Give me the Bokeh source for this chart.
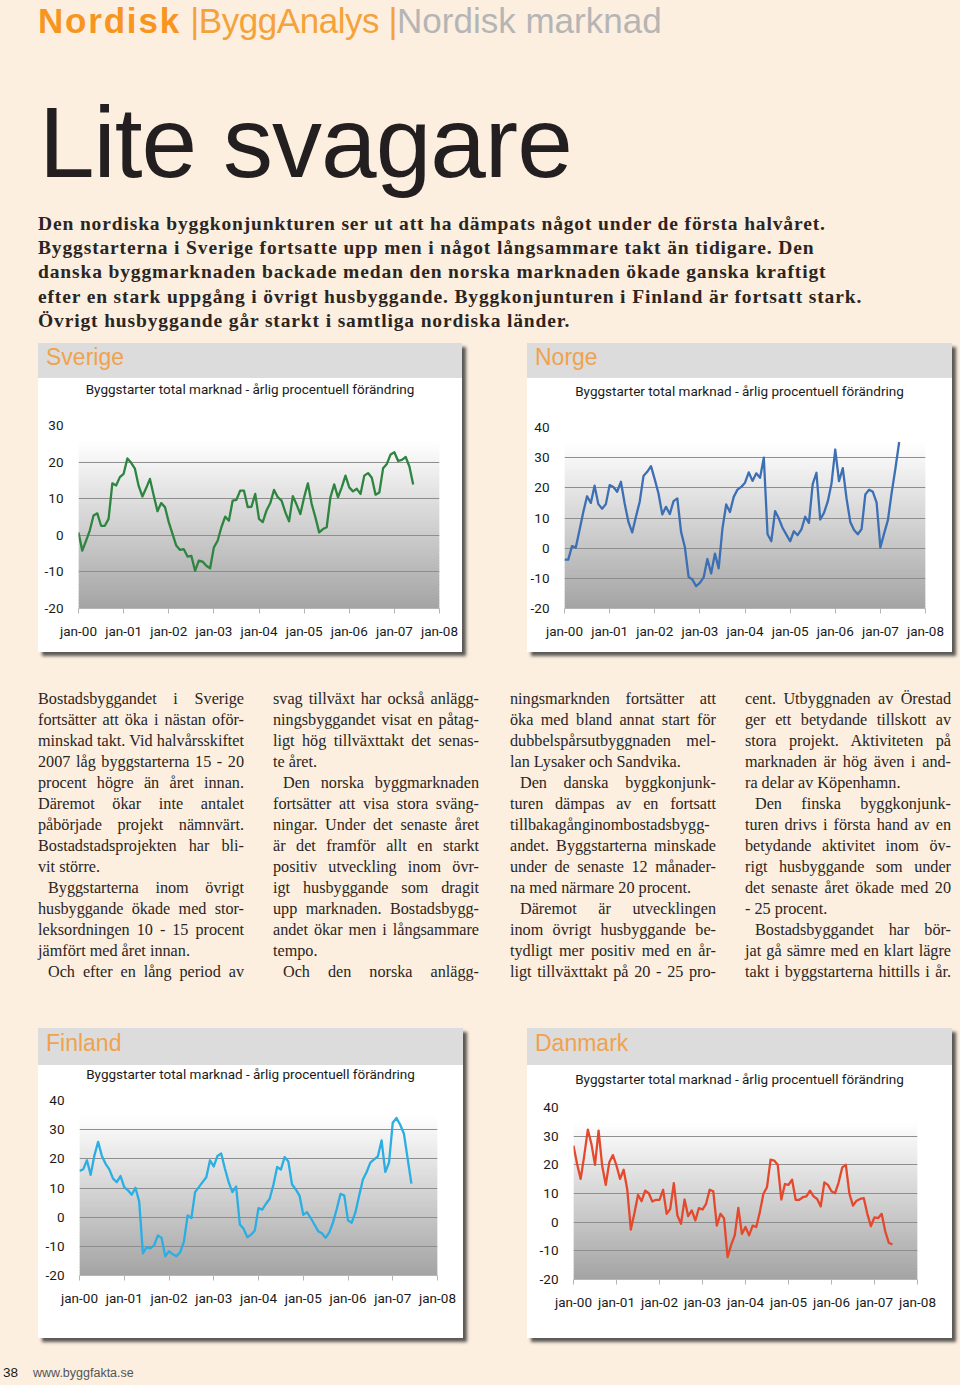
from bokeh.plotting import figure
from bokeh.models import Div, Spacer, Range1d, FixedTicker, BoxAnnotation
from bokeh.layouts import column, row
from bokeh.embed import file_html
from bokeh.resources import INLINE

# ---------------- data ----------------
tick_labels = ["jan-00", "jan-01", "jan-02", "jan-03", "jan-04",
               "jan-05", "jan-06", "jan-07", "jan-08"]

sverige = [0.8, -4.2, -1.5, 1.3, 5.4, 6.0, 2.6, 2.6, 4.5, 14.2,
           13.6, 15.9, 16.8, 21.0, 19.8, 18.2, 13.5, 10.6, 12.9, 15.4,
           10.9, 6.6, 8.8, 7.7, 3.6, 0.4, -2.8, -4.0, -3.8, -5.8,
           -5.6, -9.7, -6.9, -7.2, -8.3, -9.0, -3.3, -1.5, 2.2, 5.1,
           4.0, 9.5, 9.7, 12.2, 12.2, 7.7, 7.8, 11.3, 4.5, 3.6,
           6.8, 8.8, 12.4, 10.4, 9.5, 6.3, 3.8, 10.7, 8.4, 5.8,
           10.4, 14.2, 8.6, 4.9, 0.8, 1.7, 2.2, 10.4, 13.9, 10.4,
           13.1, 16.3, 13.1, 12.0, 12.7, 11.3, 16.3, 17.0, 15.7, 11.1,
           11.7, 18.3, 19.5, 22.1, 22.7, 20.3, 20.6, 21.4, 18.8, 13.9]

norge = [-3.8, -3.8, 0.7, 0.2, 6.0, 12.0, 17.2, 15.0, 20.7, 14.6,
         13.1, 14.6, 20.9, 20.3, 18.7, 22.0, 14.8, 8.7, 5.2, 10.4,
         15.4, 23.9, 25.3, 27.2, 22.8, 18.1, 11.2, 13.7, 11.3, 15.6,
         16.5, 5.4, 0.4, -9.5, -10.4, -12.6, -11.5, -9.7, -3.6, -8.4,
         -1.8, -6.7, 6.5, 14.5, 12.0, 17.0, 19.4, 20.3, 21.7, 25.1,
         22.3, 24.8, 23.3, 30.0, 4.6, 2.3, 12.3, 9.8, 6.7, 4.5,
         2.3, 5.6, 4.3, 6.2, 10.4, 8.4, 21.2, 25.0, 9.5, 11.7,
         15.4, 21.4, 32.7, 22.2, 26.5, 16.5, 8.7, 6.0, 4.6, 6.3,
         17.8, 19.4, 18.7, 15.1, 0.2, 4.9, 9.3, 18.3, 26.4, 35.2]

finland = [15.8, 16.4, 19.5, 14.5, 21.2, 25.8, 21.0, 18.3, 16.4, 13.2,
           12.0, 14.1, 10.3, 9.2, 7.7, 10.1, 5.4, -12.4, -10.3, -10.7,
           -9.7, -6.3, -7.1, -13.4, -11.7, -12.7, -13.4, -12.0, -8.4, 0.6,
           -0.3, 8.6, 10.3, 12.0, 13.7, 19.5, 17.4, 21.0, 21.8, 16.6,
           12.0, 8.6, 10.5, -2.5, -4.0, -6.9, -6.0, -4.6, 3.1, 2.6,
           4.6, 6.3, 11.1, 17.2, 16.3, 20.6, 19.1, 11.2, 9.5, 7.4,
           0.8, 1.7, -0.3, -2.5, -4.8, -5.5, -7.1, -5.2, -1.7, 2.9,
           8.0, 7.4, -1.1, -1.9, 1.7, 7.4, 12.9, 15.5, 18.7, 19.8,
           20.8, 26.3, 15.5, 18.7, 32.4, 34.0, 31.7, 28.6, 20.0, 11.5]

danmark = [26.7, 20.3, 15.1, 23.2, 32.3, 27.3, 20.0, 31.9, 19.7, 13.0,
           20.9, 23.4, 19.7, 15.1, 18.3, 11.4, -2.6, 3.1, 9.5, 7.3,
           11.0, 10.1, 7.2, 7.8, 7.8, 11.3, 2.9, 4.6, 13.6, 2.3,
           -0.6, 7.9, 2.1, 4.1, 0.6, 4.9, 4.4, 6.4, 11.3, 10.8,
           -1.2, 2.9, 1.4, -12.2, -7.9, -4.6, 5.0, -4.1, -1.7, -4.6,
           -1.2, -1.7, 3.5, 9.9, 12.2, 21.8, 21.5, 20.0, 7.9, 13.3,
           13.0, 14.8, 7.8, 7.8, 8.7, 9.0, 11.0, 9.0, 8.1, 5.5,
           13.9, 13.0, 10.8, 10.1, 13.9, 19.1, 20.0, 9.9, 5.8, 7.5,
           8.1, 8.4, 2.9, -1.4, 1.7, 1.4, 2.9, -3.2, -7.2, -7.8]

subtitle = "Byggstarter total marknad - årlig procentuell förändring"

header_parts = ["Nordisk", " |ByggAnalys |", "Nordisk marknad"]
main_title = "Lite svagare"
lead_lines = [
    "Den nordiska byggkonjunkturen ser ut att ha dämpats något under de första halvåret.",
    "Byggstarterna i Sverige fortsatte upp men i något långsammare takt än tidigare. Den",
    "danska byggmarknaden backade medan den norska marknaden ökade ganska kraftigt",
    "efter en stark uppgång i övrigt husbyggande. Byggkonjunturen i Finland är fortsatt stark.",
    "Övrigt husbyggande går starkt i samtliga nordiska länder.",
]

# each column: list of paragraphs (lines, indented, last line justified)
columns_text = [
    [
        (["Bostadsbyggandet i Sverige",
          "fortsätter att öka i nästan oför-",
          "minskad takt. Vid halvårsskiftet",
          "2007 låg byggstarterna 15 - 20",
          "procent högre än året innan.",
          "Däremot ökar inte antalet",
          "påbörjade projekt nämnvärt.",
          "Bostadstadsprojekten har bli-",
          "vit större."], False, False),
        (["Byggstarterna inom övrigt",
          "husbyggande ökade med stor-",
          "leksordningen 10 - 15 procent",
          "jämfört med året innan."], True, False),
        (["Och efter en lång period av"], True, True),
    ],
    [
        (["svag tillväxt har också anlägg-",
          "ningsbyggandet visat en påtag-",
          "ligt hög tillväxttakt det senas-",
          "te året."], False, False),
        (["Den norska byggmarknaden",
          "fortsätter att visa stora sväng-",
          "ningar. Under det senaste året",
          "är det framför allt en starkt",
          "positiv utveckling inom övr-",
          "igt husbyggande som dragit",
          "upp marknaden. Bostadsbygg-",
          "andet ökar men i långsammare",
          "tempo."], True, False),
        (["Och den norska anlägg-"], True, True),
    ],
    [
        (["ningsmarknden fortsätter att",
          "öka med bland annat start för",
          "dubbelspårsutbyggnaden mel-",
          "lan Lysaker och Sandvika."], False, False),
        (["Den danska byggkonjunk-",
          "turen dämpas av en fortsatt",
          "tillbakagånginombostadsbygg-",
          "andet. Byggstarterna minskade",
          "under de senaste 12 månader-",
          "na med närmare 20 procent."], True, False),
        (["Däremot är utvecklingen",
          "inom övrigt husbyggande be-",
          "tydligt mer positiv med en år-",
          "ligt tillväxttakt på 20 - 25 pro-"], True, True),
    ],
    [
        (["cent. Utbyggnaden av Örestad",
          "ger ett betydande tillskott av",
          "stora projekt. Aktiviteten på",
          "marknaden är hög även i and-",
          "ra delar av Köpenhamn."], False, False),
        (["Den finska byggkonjunk-",
          "turen drivs i första hand av en",
          "betydande aktivitet inom öv-",
          "rigt husbyggande som under",
          "det senaste året ökade med 20",
          "- 25 procent."], True, False),
        (["Bostadsbyggandet har bör-",
          "jat gå sämre med en klart lägre",
          "takt i byggstarterna hittills i år."], True, True),
    ],
]

footer_page = "38"
footer_url = "www.byggfakta.se"

# ---------------- styles ----------------
BG = "#fcefe0"
SANS = "'Liberation Sans', Arial, sans-serif"
SERIF = "'Liberation Serif', 'Times New Roman', serif"
TEXT = "#2a2522"


def lerp_hex(c1, c2, t):
    a = [int(c1[i:i + 2], 16) for i in (1, 3, 5)]
    b = [int(c2[i:i + 2], 16) for i in (1, 3, 5)]
    c = [round(a[k] + (b[k] - a[k]) * t) for k in range(3)]
    return "#%02x%02x%02x" % tuple(c)


def make_panel(name, values, color, ymax, w, band_h, band_lh, sub_h, sub_lh,
               fig_h, borders):
    band = Div(
        text=(f'<div style="width:{w}px;height:{band_h}px;line-height:{band_lh}px;'
              f'background:#dcdcdc;color:#f0a24c;font-family:{SANS};font-size:23px;'
              f'padding-left:8px;box-sizing:border-box;white-space:nowrap">{name}</div>'),
        width=w, height=band_h, margin=0)
    sub = Div(
        text=(f'<div style="width:{w}px;height:{sub_h}px;line-height:{sub_lh}px;'
              f'text-align:center;color:#1a1a1a;font-family:Roboto, sans-serif;'
              f'font-size:13.5px;white-space:nowrap">{subtitle}</div>'),
        width=w, height=sub_h, margin=0, styles={"background-color": "white"})
    ymin = -20
    l, r, t, b = borders
    p = figure(width=w, height=fig_h, x_range=Range1d(0, 12 * (len(tick_labels) - 1)),
               y_range=Range1d(ymin, ymax), output_backend="svg",
               toolbar_location=None, title=None,
               min_border_left=l, min_border_right=r, min_border_top=t,
               min_border_bottom=b, background_fill_color="white",
               border_fill_color="white", outline_line_color=None, margin=0)
    # gradient plot background
    n = 60
    step = (ymax - ymin) / n
    for i in range(n):
        lo = ymin + i * step
        frac = (i + 0.5) / n
        col = lerp_hex("#a3a3a3", "#ffffff", min(1.0, frac * 1.08))
        p.add_layout(BoxAnnotation(bottom=lo - step * 0.5 if i else None,
                                   top=lo + step, fill_color=col, fill_alpha=1.0,
                                   line_color=None, level="image"))
    xs = list(range(len(values)))
    p.line(xs, values, line_color=color, line_width=2.3, line_join="round")

    ticks = [12 * i for i in range(len(tick_labels))]
    p.xaxis.ticker = FixedTicker(ticks=ticks)
    p.xaxis.major_label_overrides = {k: v for k, v in zip(ticks, tick_labels)}
    p.xaxis.minor_tick_line_color = None
    p.xaxis.major_tick_out = 5
    p.xaxis.major_tick_in = 0
    p.xaxis.major_tick_line_color = "#b5b5b5"
    p.xaxis.axis_line_color = "#b5b5b5"
    p.xaxis.major_label_standoff = 9
    yticks = list(range(ymin, ymax + 1, 10))
    p.yaxis.ticker = FixedTicker(ticks=yticks)
    p.yaxis.major_label_overrides = {v: str(v) for v in yticks}
    p.yaxis.major_tick_line_color = None
    p.yaxis.minor_tick_line_color = None
    p.yaxis.axis_line_color = None
    p.yaxis.major_label_standoff = 9
    for ax in (p.xaxis, p.yaxis):
        ax.major_label_text_font = "Roboto"
        ax.major_label_text_font_size = "13.5px"
        ax.major_label_text_color = "#1a1a1a"
    p.xgrid.grid_line_color = None
    p.ygrid.ticker = FixedTicker(ticks=yticks)
    p.ygrid.grid_line_color = "#8e8e8e"
    p.ygrid.grid_line_width = 1

    panel = column(band, sub, p, width=w, height=band_h + sub_h + fig_h,
                   margin=0, spacing=0,
                   styles={"box-shadow": "4px 4px 3px rgba(50,50,50,0.8)",
                           "background-color": "white"})
    return panel


sv = make_panel("Sverige", sverige, "#2e8540", 30, 424, 35, 29.4, 22, 22, 252,
                (40, 23, 25, 44))
no = make_panel("Norge", norge, "#3d6fb4", 40, 425, 35, 29.4, 27, 27.4, 247,
                (35, 27, 22, 44))
fi = make_panel("Finland", finland, "#2aaee3", 40, 425, 37, 30, 20, 19.6, 253,
                (41, 26, 15, 63))
da = make_panel("Danmark", danmark, "#e5492d", 40, 425, 37, 30, 28, 28, 245,
                (46, 35, 14, 59))

# ---------------- top text ----------------
top_html = ['<div style="position:relative;width:944px;height:335px">']
top_html.append(
    f'<div style="position:absolute;left:30px;top:0px;line-height:26px;'
    f'font-family:{SANS};font-size:35px;white-space:nowrap">'
    f'<span style="color:#f7951f;font-weight:bold;letter-spacing:1.8px">{header_parts[0]}</span>'
    f'<span style="color:#f5a23a;letter-spacing:-0.45px">{header_parts[1]}</span>'
    f'<span style="color:#b5b5b5">{header_parts[2]}</span></div>')
top_html.append(
    f'<div style="position:absolute;left:31px;top:73.5px;line-height:120px;'
    f'font-family:{SANS};font-size:100px;letter-spacing:-1px;color:#231f20;'
    f'white-space:nowrap">{main_title}</div>')
for i, line in enumerate(lead_lines):
    top_html.append(
        f'<div style="position:absolute;left:30px;top:{203.6 + i * 24.3:.1f}px;'
        f'line-height:24.3px;font-family:{SERIF};font-weight:bold;font-size:19.5px;'
        f'letter-spacing:0.86px;color:{TEXT};white-space:nowrap">{line}</div>')
top_html.append('</div>')
top_div = Div(text="".join(top_html), width=944, height=335, margin=0,
              styles={"overflow": "visible"})

# ---------------- body text columns ----------------
col_lefts = [30, 265, 502, 737]
col_w = 206
lh = 20.95
mid_html = ['<div style="position:relative;width:944px;height:376px">']
for ci, paras in enumerate(columns_text):
    k = 0
    for lines, indented, last_just in paras:
        for li, line in enumerate(lines):
            ind = 10 if (indented and li == 0) else 0
            is_last = li == len(lines) - 1
            align = "left" if (is_last and not last_just) else "justify"
            mid_html.append(
                f'<div style="position:absolute;left:{col_lefts[ci]}px;'
                f'top:{37.4 + k * lh:.2f}px;width:{col_w}px;height:{lh}px;'
                f'line-height:{lh}px;padding-left:{ind}px;box-sizing:border-box;'
                f'font-family:{SERIF};font-size:16.2px;color:{TEXT};'
                f'text-align:{align};text-align-last:{align}">{line}</div>')
            k += 1
mid_html.append('</div>')
mid_div = Div(text="".join(mid_html), width=944, height=376, margin=0)

foot_div = Div(
    text=(f'<div style="position:relative;width:944px;height:39px">'
          f'<div style="position:absolute;left:-5px;top:25px;line-height:20px;'
          f'font-family:{SANS};font-size:13.5px;color:#1a1a1a">{footer_page}</div>'
          f'<div style="position:absolute;left:25px;top:25px;line-height:20px;'
          f'font-family:{SANS};font-size:12.5px;color:#555555">{footer_url}</div>'
          f'</div>'),
    width=944, height=39, margin=0)

row1 = row(Spacer(width=30, height=309), sv, Spacer(width=65, height=309), no,
           spacing=0, margin=0)
row2 = row(Spacer(width=30, height=310), fi, Spacer(width=64, height=310), da,
           spacing=0, margin=0)

root = column(top_div, row1, mid_div, row2, foot_div, spacing=0, margin=0)

html = file_html(root, INLINE, title="Nordisk marknad")
html = html.replace(
    "</head>",
    "<style>html,body{background:" + BG + " !important;}"
    "body{margin:0 !important;padding:8px !important;height:auto !important;"
    "box-sizing:border-box;}</style></head>", 1)
with open("out.html", "w") as f:
    f.write(html)
